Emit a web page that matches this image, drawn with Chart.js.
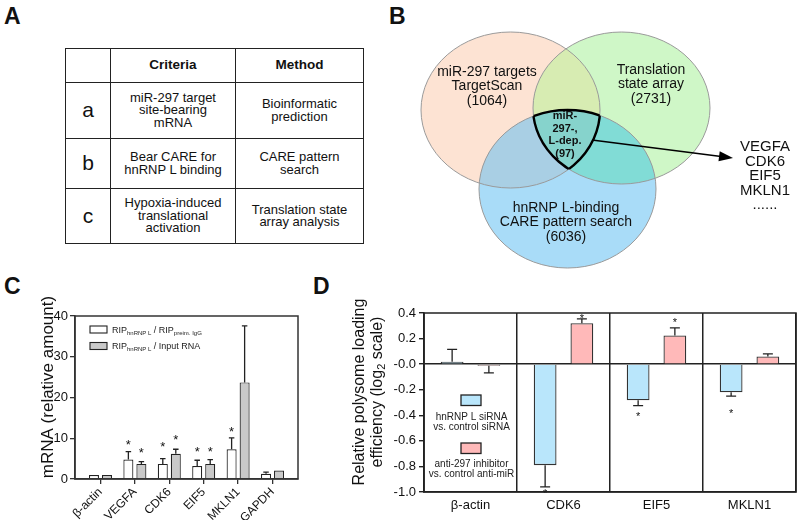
<!DOCTYPE html>
<html>
<head>
<meta charset="utf-8">
<script src="https://cdn.jsdelivr.net/npm/chart.js@4"></script>
<style>
html,body{margin:0;padding:0;background:#fff;}
body{width:800px;height:520px;position:relative;overflow:hidden;font-family:'Liberation Sans',Arial,Helvetica,sans-serif;color:#111;}
.plabel{position:absolute;font-weight:bold;font-size:23px;line-height:1;}
#tblA{position:absolute;left:65px;top:48px;border-collapse:collapse;table-layout:fixed;}
#tblA td{border:1.5px solid #222;text-align:center;vertical-align:middle;font-size:13px;line-height:12.5px;padding:0;white-space:pre-line;}
#tblA tr.hd td{font-weight:bold;font-size:13.5px;}
#tblA td.id{font-size:21px;}
canvas{position:absolute;}
</style>
</head>
<body>
<div class="plabel" style="left:4px;top:5px">A</div>
<div class="plabel" style="left:389px;top:5px">B</div>
<div class="plabel" style="left:4px;top:275px">C</div>
<div class="plabel" style="left:313px;top:275px">D</div>

<table id="tblA">
  <colgroup><col style="width:45px"><col style="width:125px"><col style="width:128px"></colgroup>
  <tbody id="tblA-body"></tbody>
</table>

<canvas id="venn" width="400" height="270" style="left:400px;top:0"></canvas>
<canvas id="rip" width="330" height="250" style="left:0;top:270px"></canvas>
<canvas id="poly" width="470" height="250" style="left:330px;top:270px"></canvas>

<script>
// ── A: критерії відбору ──
const criteriaHead = ['', 'Criteria', 'Method'];
const criteriaIds = ['a', 'b', 'c'];
const criteriaText = ['miR-297 target\nsite-bearing\nmRNA', 'Bear CARE for\nhnRNP L binding', 'Hypoxia-induced\ntranslational\nactivation'];
const criteriaMethod = ['Bioinformatic\nprediction', 'CARE pattern\nsearch', 'Translation state\narray analysis'];

// ── B: Venn ──
const vennSets = ['miR-297 targets\nTargetScan', 'Translation\nstate array', 'hnRNP L-binding\nCARE pattern search'];
const vennCounts = [1064, 2731, 6036];
const vennCore = 'miR-\n297-,\nL-dep.';
const vennCoreCount = 97;
const vennGenes = ['VEGFA', 'CDK6', 'EIF5', 'MKLN1', '......'];

// ── C: RIP ──
const ripGenes = ['β-actin', 'VEGFA', 'CDK6', 'EIF5', 'MKLN1', 'GAPDH'];
const ripIgG = [1.0, 4.8, 3.7, 3.2, 7.3, 1.3];
const ripIgGErr = [1.0, 6.7, 5.0, 4.6, 10.1, 1.7];
const ripInput = [1.0, 3.7, 6.2, 3.7, 23.7, 2.1];
const ripInputErr = [1.0, 4.25, 7.3, 4.75, 37.6, 2.2];
const ripIgGStar = [null, 9.1, 8.8, 7.4, 12.4, null];
const ripInputStar = [null, 7.3, 10.4, 7.4, null, null];
const ripTicks = [0, 10, 20, 30, 40];

// ── D: polysome loading ──
const polyGenes = ['β-actin', 'CDK6', 'EIF5', 'MKLN1'];
const polySi = [0.018, -0.79, -0.283, -0.22];
const polySiErr = [0.115, -0.96, -0.325, -0.25];
const polyAnti = [-0.013, 0.32, 0.225, 0.06];
const polyAntiErr = [-0.068, 0.354, 0.283, 0.081];
const polySiStar = [null, -0.99, -0.39, -0.367];
const polyAntiStar = [null, 0.38, 0.345, null];
const polyTicks = [-1.0, -0.8, -0.6, -0.4, -0.2, 0, 0.2, 0.4];

const FONT = "'Liberation Sans', Arial, Helvetica, sans-serif";
Chart.defaults.font.family = FONT;
Chart.defaults.color = '#111';
Chart.defaults.animation = false;

// table
(() => {
  const tb = document.getElementById('tblA-body');
  const hd = document.createElement('tr');
  hd.className = 'hd'; hd.style.height = '34px';
  criteriaHead.forEach(h => { const td = document.createElement('td'); td.textContent = h; hd.appendChild(td); });
  tb.appendChild(hd);
  const hs = [56, 50, 55];
  criteriaIds.forEach((id, i) => {
    const tr = document.createElement('tr');
    tr.style.height = hs[i] + 'px';
    [id, criteriaText[i], criteriaMethod[i]].forEach((t, k) => {
      const td = document.createElement('td');
      if (k === 0) td.className = 'id';
      td.textContent = t;
      tr.appendChild(td);
    });
    tb.appendChild(tr);
  });
})();

// helpers
function lines(ctx, txt, x, y, lh){
  txt.split('\n').forEach((l, i) => ctx.fillText(l, x, y + i*lh));
}
function drawErrors(chart, sets, capW){
  const ctx = chart.ctx, ys = chart.scales.y;
  ctx.save();
  ctx.strokeStyle = '#222'; ctx.lineWidth = 1.3;
  sets.forEach(([di, ends]) => {
    chart.getDatasetMeta(di).data.forEach((bar, j) => {
      const e = ends[j];
      if (e == null) return;
      const y1 = ys.getPixelForValue(e);
      if (Math.abs(y1 - bar.y) < 0.8) return;
      ctx.beginPath();
      ctx.moveTo(bar.x, bar.y); ctx.lineTo(bar.x, y1);
      ctx.moveTo(bar.x - capW/2, y1); ctx.lineTo(bar.x + capW/2, y1);
      ctx.stroke();
    });
  });
  ctx.restore();
}
function drawStars(chart, sets, fs){
  const ctx = chart.ctx, ys = chart.scales.y;
  ctx.save();
  ctx.fillStyle = '#111'; ctx.font = fs + 'px ' + FONT;
  ctx.textAlign = 'center'; ctx.textBaseline = 'alphabetic';
  sets.forEach(([di, stars]) => {
    chart.getDatasetMeta(di).data.forEach((bar, j) => {
      if (stars[j] == null) return;
      ctx.fillText('*', bar.x, ys.getPixelForValue(stars[j]) + fs*0.58);
    });
  });
  ctx.restore();
}

// ── B ──
new Chart(document.getElementById('venn'), {
  type: 'scatter',
  data: {datasets: [{data: []}]},
  options: {
    responsive: false,
    layout: {padding: 0},
    plugins: {legend: {display: false}, tooltip: {enabled: false}},
    scales: {
      x: {type: 'linear', min: 400, max: 800, display: false},
      y: {type: 'linear', min: 0, max: 270, reverse: true, display: false},
    },
  },
  plugins: [{
    id: 'venn',
    afterDraw(chart){
      const ctx = chart.ctx, sx = chart.scales.x, sy = chart.scales.y;
      const X = v => sx.getPixelForValue(v), Y = v => sy.getPixelForValue(v);
      const E = [
        {cx: 510.5, cy: 110, rx: 89.5, ry: 78},
        {cx: 621.5, cy: 108, rx: 88.5, ry: 76},
        {cx: 567.5, cy: 189, rx: 88.5, ry: 79},
      ];
      const path = e => {
        ctx.beginPath();
        ctx.ellipse(X(e.cx), Y(e.cy), X(e.cx + e.rx) - X(e.cx), Y(e.cy + e.ry) - Y(e.cy), 0, 0, Math.PI*2);
      };
      const fillIn = (ids, col) => {
        ctx.save();
        ids.forEach(i => { path(E[i]); ctx.clip(); });
        ctx.fillStyle = col;
        ctx.fillRect(0, 0, chart.width, chart.height);
        ctx.restore();
      };
      fillIn([0], '#fde3d3');
      fillIn([1], '#cff7c7');
      fillIn([2], '#a9dcf8');
      fillIn([0, 1], '#d7ecb2');
      fillIn([0, 2], '#a9cfe4');
      fillIn([1, 2], '#81dcd6');
      fillIn([0, 1, 2], '#86d3cc');
      ctx.save();
      ctx.strokeStyle = '#9a9a9a'; ctx.lineWidth = 1;
      E.forEach(e => { path(e); ctx.stroke(); });
      ctx.restore();
      // core outline
      [[0, [1, 2]], [1, [0, 2]], [2, [0, 1]]].forEach(([i, others]) => {
        ctx.save();
        others.forEach(o => { path(E[o]); ctx.clip(); });
        path(E[i]);
        ctx.strokeStyle = '#000'; ctx.lineWidth = 2.4;
        ctx.stroke();
        ctx.restore();
      });
      // labels
      ctx.save();
      ctx.fillStyle = '#111'; ctx.textAlign = 'center'; ctx.textBaseline = 'middle';
      ctx.font = '14px ' + FONT;
      const pos = [[487, 72], [651, 70], [566, 208]];
      vennSets.forEach((s, i) => lines(ctx, s + '\n(' + vennCounts[i] + ')', X(pos[i][0]), Y(pos[i][1]), 14.5));
      ctx.font = 'bold 11px ' + FONT;
      lines(ctx, vennCore + '\n(' + vennCoreCount + ')', X(565), Y(116), 12.7);
      ctx.font = '15px ' + FONT;
      lines(ctx, vennGenes.join('\n'), X(765), Y(147), 14.5);
      // arrow
      const x0 = X(592), y0 = Y(140), x1 = X(733), y1 = Y(158);
      const a = Math.atan2(y1 - y0, x1 - x0);
      ctx.strokeStyle = '#000'; ctx.lineWidth = 1.6;
      ctx.beginPath(); ctx.moveTo(x0, y0);
      ctx.lineTo(x1 - 10*Math.cos(a), y1 - 10*Math.sin(a)); ctx.stroke();
      ctx.beginPath();
      ctx.moveTo(x1, y1);
      ctx.lineTo(x1 - 14*Math.cos(a) + 5*Math.sin(a), y1 - 14*Math.sin(a) - 5*Math.cos(a));
      ctx.lineTo(x1 - 14*Math.cos(a) - 5*Math.sin(a), y1 - 14*Math.sin(a) + 5*Math.cos(a));
      ctx.closePath(); ctx.fillStyle = '#000'; ctx.fill();
      ctx.restore();
    }
  }]
});

// ── C ──
const ripLegend = [
  [['RIP', 0], ['hnRNP L', 1], [' / RIP', 0], ['preim. IgG', 1]],
  [['RIP', 0], ['hnRNP L', 1], [' / Input RNA', 0]],
];
new Chart(document.getElementById('rip'), {
  type: 'bar',
  data: {
    datasets: [
      {data: ripIgG.map((v, i) => ({x: i, y: v})), backgroundColor: '#ffffff', borderColor: '#222', borderWidth: 1.2},
      {data: ripInput.map((v, i) => ({x: i, y: v})), backgroundColor: '#c9c9c9', borderColor: '#222', borderWidth: 1.2},
    ]
  },
  options: {
    responsive: false,
    layout: {padding: {left: 0, top: 46, right: 32, bottom: 0}},
    categoryPercentage: 0.756, barPercentage: 0.77,
    plugins: {legend: {display: false}, tooltip: {enabled: false}},
    scales: {
      x: {
        type: 'linear', min: -0.74, max: 5.74, offset: false,
        afterBuildTicks: s => { s.ticks = ripGenes.map((_, i) => ({value: i})); },
        afterFit: s => { s.height = 41; },
        ticks: {callback: v => ripGenes[v], autoSkip: false, maxRotation: 45, minRotation: 45, font: {size: 12}, color: '#111', padding: 1},
        grid: {offset: false, drawOnChartArea: false, tickLength: 5, color: '#333', lineWidth: 1.3},
        border: {display: true, color: '#333', width: 1.5},
      },
      y: {
        min: 0, max: 40,
        afterBuildTicks: s => { s.ticks = ripTicks.map(v => ({value: v})); },
        afterFit: s => { s.width = 75; },
        ticks: {font: {size: 13}, color: '#111', padding: 2},
        grid: {drawOnChartArea: false, tickLength: 5, color: '#333', lineWidth: 1.3},
        border: {display: true, color: '#333', width: 1.5},
      }
    }
  },
  plugins: [{
    id: 'ripExtras',
    afterDatasetsDraw(chart){
      const ctx = chart.ctx, a = chart.chartArea;
      drawErrors(chart, [[0, ripIgGErr], [1, ripInputErr]], 5.5);
      drawStars(chart, [[0, ripIgGStar], [1, ripInputStar]], 13);
      ctx.save();
      ctx.strokeStyle = '#333'; ctx.lineWidth = 1.5;
      ctx.strokeRect(a.left, a.top, a.right - a.left, a.bottom - a.top);
      // legend
      const fills = ['#ffffff', '#c9c9c9'];
      ripLegend.forEach((segs, i) => {
        const by = 56 + i*16.5;
        ctx.fillStyle = fills[i]; ctx.fillRect(90, by, 17, 7);
        ctx.strokeStyle = '#222'; ctx.lineWidth = 1.1; ctx.strokeRect(90, by, 17, 7);
        let x = 112; const base = by + 6.5;
        ctx.fillStyle = '#222'; ctx.textAlign = 'left'; ctx.textBaseline = 'alphabetic';
        segs.forEach(([t, sub]) => {
          ctx.font = (sub ? 6 : 9) + 'px ' + FONT;
          ctx.fillText(t, x, base + (sub ? 2 : 0));
          x += ctx.measureText(t).width;
        });
      });
      // y title
      ctx.save();
      ctx.translate(48, 117); ctx.rotate(-Math.PI/2);
      ctx.font = '17px ' + FONT; ctx.fillStyle = '#111';
      ctx.textAlign = 'center'; ctx.textBaseline = 'middle';
      ctx.fillText('mRNA (relative amount)', 0, 0);
      ctx.restore();
      ctx.restore();
    }
  }]
});

// ── D ──
const polyLegend = ['hnRNP L siRNA\nvs. control siRNA', 'anti-297 inhibitor\nvs. control anti-miR'];
const polyFill = ['#b9e6fb', '#ffb9b9'];
new Chart(document.getElementById('poly'), {
  type: 'bar',
  data: {
    labels: polyGenes,
    datasets: [
      {data: polySi, backgroundColor: polyFill[0], borderColor: '#333', borderWidth: 1.3},
      {data: polyAnti, backgroundColor: polyFill[1], borderColor: '#333', borderWidth: 1.3},
    ]
  },
  options: {
    responsive: false,
    layout: {padding: {left: 0, top: 43, right: 4, bottom: 0}},
    categoryPercentage: 0.79, barPercentage: 0.62,
    plugins: {legend: {display: false}, tooltip: {enabled: false}},
    scales: {
      x: {
        afterFit: s => { s.height = 28; },
        ticks: {font: {size: 13}, color: '#111', padding: 6},
        grid: {offset: true, drawTicks: false, color: '#222', lineWidth: 1.5},
        border: {display: true, color: '#222', width: 1.5},
      },
      y: {
        min: -1, max: 0.4,
        afterBuildTicks: s => { s.ticks = polyTicks.map(v => ({value: v})); },
        afterFit: s => { s.width = 94; },
        ticks: {font: {size: 13}, color: '#111', padding: 3,
          callback: v => Math.abs(v) < 1e-9 ? '-0.0' : v.toFixed(1)},
        grid: {
          color: c => (c.tick && Math.abs(c.tick.value) < 1e-9) ? '#222' : 'rgba(0,0,0,0)',
          tickColor: '#222', tickLength: 5, lineWidth: 1.4,
        },
        border: {display: true, color: '#222', width: 1.5},
      }
    }
  },
  plugins: [{
    id: 'polyExtras',
    afterDatasetsDraw(chart){
      const ctx = chart.ctx, a = chart.chartArea;
      drawErrors(chart, [[0, polySiErr], [1, polyAntiErr]], 10);
      drawStars(chart, [[0, polySiStar], [1, polyAntiStar]], 11);
      ctx.save();
      ctx.strokeStyle = '#222'; ctx.lineWidth = 1.5;
      ctx.strokeRect(a.left, a.top, a.right - a.left, a.bottom - a.top);
      // legend
      const boxY = [125, 173], txtY = [147.3, 194.3];
      polyLegend.forEach((t, i) => {
        ctx.fillStyle = polyFill[i]; ctx.fillRect(131, boxY[i], 20, 10.5);
        ctx.strokeStyle = '#222'; ctx.lineWidth = 1.3; ctx.strokeRect(131, boxY[i], 20, 10.5);
        ctx.fillStyle = '#222'; ctx.font = '10px ' + FONT;
        ctx.textAlign = 'center'; ctx.textBaseline = 'middle';
        lines(ctx, t, 141.5, txtY[i], 10);
      });
      // y title
      ctx.save();
      ctx.translate(30, 122); ctx.rotate(-Math.PI/2);
      ctx.font = '16px ' + FONT; ctx.fillStyle = '#111';
      ctx.textAlign = 'center'; ctx.textBaseline = 'middle';
      ctx.fillText('Relative polysome loading', 0, 0);
      const w1 = ctx.measureText('efficiency (log').width;
      const w2 = ctx.measureText(' scale)').width;
      ctx.font = '11px ' + FONT;
      const w3 = ctx.measureText('2').width;
      const start = -(w1 + w2 + w3)/2;
      ctx.textAlign = 'left';
      ctx.font = '16px ' + FONT;
      ctx.fillText('efficiency (log', start, 18);
      ctx.font = '11px ' + FONT;
      ctx.fillText('2', start + w1, 22);
      ctx.font = '16px ' + FONT;
      ctx.fillText(' scale)', start + w1 + w3, 18);
      ctx.restore();
      ctx.restore();
    }
  }]
});
</script>
</body>
</html>
